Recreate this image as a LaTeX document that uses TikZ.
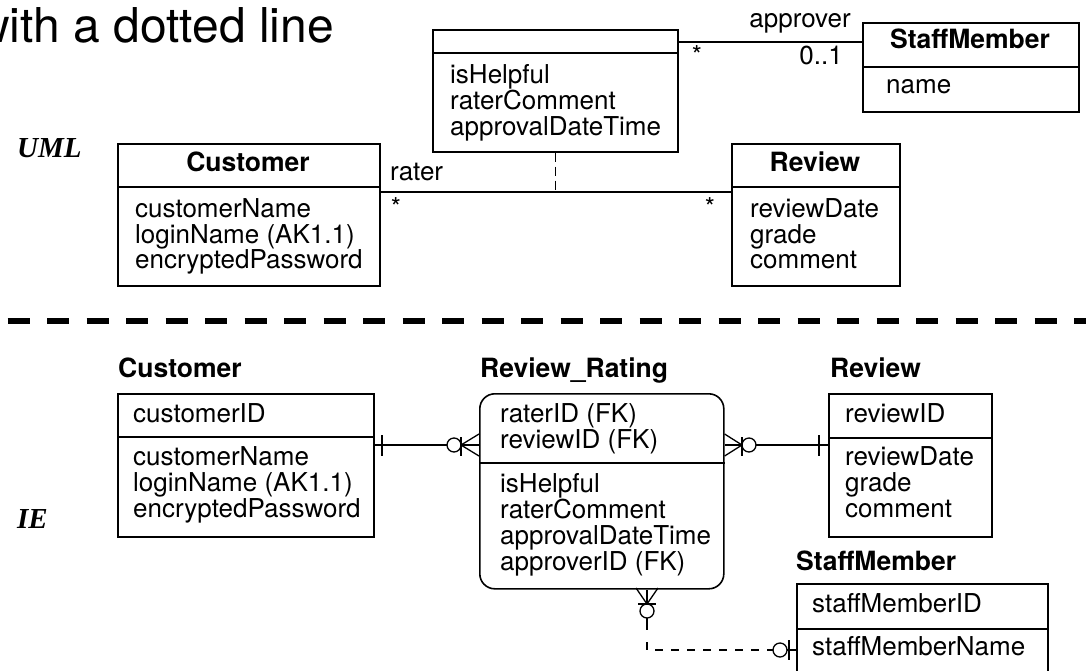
\documentclass[tikz,border=0pt]{standalone}
\usepackage{fontspec}
\setmainfont{TeX Gyre Heros}
\newfontfamily\notefont{Liberation Serif}
\newcommand\attrsize{\fontsize{26}{26}\selectfont}
\newcommand\titlesize{\fontsize{26.5}{26}\selectfont\bfseries}
\begin{document}
\begin{tikzpicture}[x=1pt,y=-1pt,
  box/.style={draw, line width=1.6pt, inner sep=0pt, anchor=north west},
  rbox/.style={box, rounded corners=15pt},
  divider/.style={line width=1.6pt},
  attr/.style={inner sep=0pt, anchor=base west, font=\attrsize},
  ttl/.style={inner sep=0pt, anchor=base, font=\titlesize},
  ettl/.style={inner sep=0pt, anchor=base west, font=\titlesize},
  lbl/.style={inner sep=0pt, font=\attrsize},
  note/.style={inner sep=0pt, anchor=base west, font=\notefont\bfseries\itshape\fontsize{29}{30}\selectfont},
  conn/.style={line width=1.3pt},
  ddash/.style={conn, dash pattern=on 8pt off 8pt},
  vdash/.style={line width=1.1pt, dash pattern=on 9pt off 5pt}
]
\useasboundingbox (0,0) rectangle (1086,670);

% heading
\node[inner sep=0pt, anchor=base west, font=\fontsize{48}{52}\selectfont] (heading) at (-25,42) {with a dotted line};

% ================= UML =================
\node[note] (uml) at (17,157) {UML};

% association class
\node[box, minimum width=245pt, minimum height=122pt] (asso) at (432,29) {};
\draw[divider] (asso.west |- 0,53) -- (asso.east |- 0,53);
\node[attr] (a1) at (450,83) {isHelpful};
\node[attr] (a2) at (450,109) {raterComment};
\node[attr] (a3) at (450,135) {approvalDateTime};

% StaffMember (UML)
\node[box, minimum width=216pt, minimum height=89pt] (ustaff) at (862,22) {};
\draw[divider] (ustaff.west |- 0,67) -- (ustaff.east |- 0,67);
\node[ttl] (ust) at (970,48) {StaffMember};
\node[attr] (us1) at (886,93) {name};

% Customer (UML)
\node[box, minimum width=262pt, minimum height=142pt] (ucust) at (117,143) {};
\draw[divider] (ucust.west |- 0,187) -- (ucust.east |- 0,187);
\node[ttl] (uct) at (248,171) {Customer};
\node[attr] (uc1) at (135,217) {customerName};
\node[attr] (uc2) at (135,243) {loginName (AK1.1)};
\node[attr] (uc3) at (135,268) {encryptedPassword};

% Review (UML)
\node[box, minimum width=168pt, minimum height=142pt] (urev) at (731,143) {};
\draw[divider] (urev.west |- 0,187) -- (urev.east |- 0,187);
\node[ttl] (urt) at (815,171) {Review};
\node[attr] (ur1) at (750,217) {reviewDate};
\node[attr] (ur2) at (750,243) {grade};
\node[attr] (ur3) at (750,268) {comment};

% associations
\draw[conn] (ucust.east |- 0,192) coordinate (rl) -- (urev.west |- 0,192) coordinate (rr);
\coordinate (mid) at (asso.south |- rl);
\draw[vdash] (asso.south) -- (mid);
\draw[conn] (asso.east |- 0,42) -- (ustaff.west |- 0,42);
\node[lbl, anchor=base west] (lrater) at (390,180) {rater};
\node[lbl] (m1) at (396,207) {*};
\node[lbl] (m2) at (710,207) {*};
\node[lbl, anchor=base east] (lapp) at (851,27) {approver};
\node[lbl] (m3) at (697,55) {*};
\node[lbl, anchor=base east] (m4) at (843,64) {0..1};

% separator
\draw[line width=6pt, dash pattern=on 22pt off 17.5pt, dash phase=32pt] (0,321) -- (1086,321);

% ================= IE =================
\node[note] (ie) at (17,528) {IE};

% Customer (IE)
\node[ettl] (ict) at (118,377) {Customer};
\node[box, minimum width=256pt, minimum height=143pt] (icust) at (117,393) {};
\draw[divider] (icust.west |- 0,437) -- (icust.east |- 0,437);
\node[attr] (ick) at (133,422) {customerID};
\node[attr] (ic1) at (133,465) {customerName};
\node[attr] (ic2) at (133,491) {loginName (AK1.1)};
\node[attr] (ic3) at (133,517) {encryptedPassword};

% Review_Rating (IE)
\node[ettl] (irt) at (480,377) {Review\_Rating};
\node[rbox, minimum width=244pt, minimum height=195pt] (irr) at (479,393) {};
\draw[divider] (irr.west |- 0,463) -- (irr.east |- 0,463);
\node[attr] (ik1) at (500,422) {raterID (FK)};
\node[attr] (ik2) at (500,448) {reviewID (FK)};
\node[attr] (ir1) at (500,492) {isHelpful};
\node[attr] (ir2) at (500,518) {raterComment};
\node[attr] (ir3) at (500,544) {approvalDateTime};
\node[attr] (ir4) at (500,570) {approverID (FK)};

% Review (IE)
\node[ettl] (ivt) at (830,377) {Review};
\node[box, minimum width=163pt, minimum height=143pt] (irev) at (828,393) {};
\draw[divider] (irev.west |- 0,438) -- (irev.east |- 0,438);
\node[attr] (ivk) at (845,422) {reviewID};
\node[attr] (iv1) at (845,465) {reviewDate};
\node[attr] (iv2) at (845,491) {grade};
\node[attr] (iv3) at (845,517) {comment};

% StaffMember (IE)
\node[ettl] (ist) at (796,570) {StaffMember};
\node[box, minimum width=251pt, minimum height=110pt] (istaff) at (796,583) {};
\draw[divider] (istaff.west |- 0,629) -- (istaff.east |- 0,629);
\node[attr] (isk) at (812,612) {staffMemberID};
\node[attr] (is1) at (812,655) {staffMemberName};

% --- Customer -> Review_Rating
\draw[conn] (icust.east |- 0,445) -- (447,445);
\draw[conn] (382,435) -- (382,456);
\draw[conn] (454,445) circle (7pt);
\draw[conn] (461,437) -- (461,456);
\draw[conn] (461,445) -- (irr.west |- 0,445);
\draw[conn] (461,445) -- (irr.west |- 0,434);
\draw[conn] (461,445) -- (irr.west |- 0,456);

% --- Review -> Review_Rating
\draw[conn] (irev.west |- 0,445) -- (756,445);
\draw[conn] (819,435) -- (819,456);
\draw[conn] (749,445) circle (7pt);
\draw[conn] (742,437) -- (742,456);
\draw[conn] (742,445) -- (irr.east |- 0,445);
\draw[conn] (742,445) -- (irr.east |- 0,434);
\draw[conn] (742,445) -- (irr.east |- 0,456);

% --- StaffMember -> Review_Rating (non-identifying)
\coordinate (apex) at (647,604);
\draw[conn] (apex) -- (irr.south -| 647,0);
\draw[conn] (apex) -- (636,588);
\draw[conn] (apex) -- (658,588);
\draw[conn] (638,604) -- (656,604);
\draw[conn] (647,611) circle (7pt);
\draw[conn] (647,618) -- (647,630);
\draw[ddash] (647,642) -- (647,650) -- (773,650);
\draw[conn] (780,650) circle (7pt);
\draw[conn] (789,640) -- (789,660);
\draw[conn] (787,650) -- (istaff.west |- 0,650);
\end{tikzpicture}
\end{document}
